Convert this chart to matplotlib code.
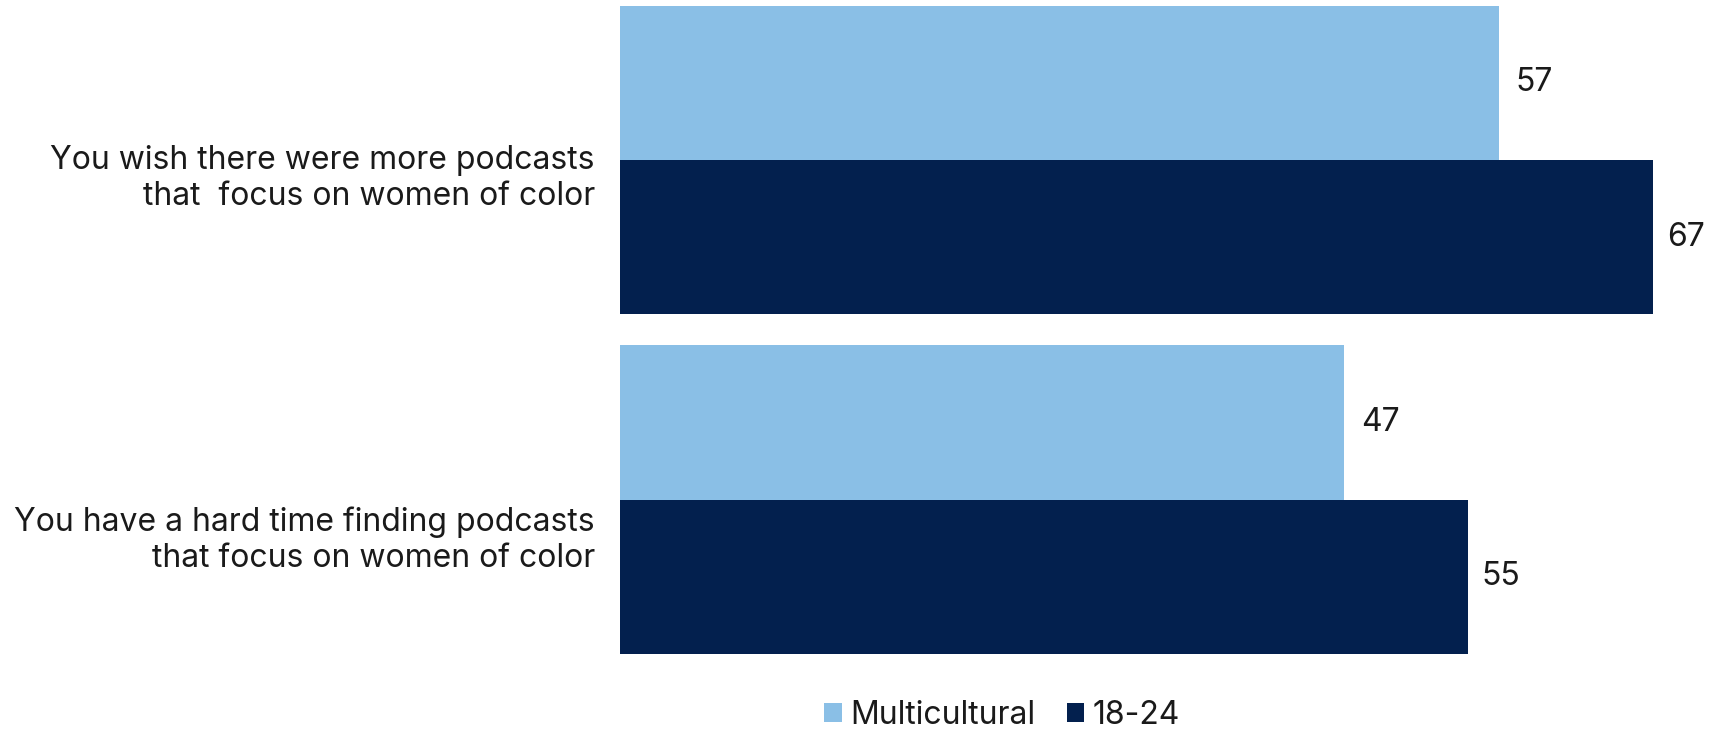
import matplotlib
matplotlib.use("Agg")
import matplotlib.pyplot as plt
import matplotlib.transforms as mtransforms
from matplotlib.patches import Patch
import numpy as np

plt.rcParams['font.family'] = ['Inter', 'DejaVu Sans']

categories = ["You wish there were more podcasts\nthat  focus on women of color",
              "You have a hard time finding podcasts\nthat focus on women of color"]
series_names = ["Multicultural", "18-24"]
multicultural = [57, 47]
age_18_24 = [67, 55]
colors = ["#8ABFE6", "#03204E"]
label_drop_px = [13, 35]

fig = plt.figure(figsize=(17.16, 7.30), dpi=100)
ax = fig.add_axes([620/1716, 76/730, (1699-620)/1716, (654-5.5)/730])

h = 0.455
y = np.arange(len(categories))
ax.barh(y - h/2, multicultural, height=h, color=colors[0])
ax.barh(y + h/2, age_18_24, height=h, color=colors[1])

for yi, v in zip(y - h/2, multicultural):
    ax.annotate(str(v), (v, yi), xytext=(12, 0), textcoords='offset points',
                va='center', ha='left', fontsize=23, color='#1a1a1a')
for yi, v in zip(y + h/2, age_18_24):
    ax.annotate(str(v), (v, yi), xytext=(10, 0), textcoords='offset points',
                va='center', ha='left', fontsize=23, color='#1a1a1a')

ax.set_xlim(0, 70)
ax.set_ylim(len(categories) - 1 + h, -h)
ax.set_yticks(y)
ax.set_yticklabels(categories, fontsize=23, color='#1a1a1a', ha='right',
                   multialignment='right', linespacing=1.2)
ax.tick_params(axis='y', length=0, pad=18)
ax.set_xticks([])
for s in ax.spines.values():
    s.set_visible(False)

for lbl, d in zip(ax.get_yticklabels(), label_drop_px):
    offset = mtransforms.ScaledTranslation(0, -d/100, fig.dpi_scale_trans)
    lbl.set_transform(lbl.get_transform() + offset)

handles = [Patch(facecolor=colors[0]), Patch(facecolor=colors[1])]
fig.legend(handles, series_names, loc='center', bbox_to_anchor=(1002/1716, 15/730),
           ncol=2, frameon=False, fontsize=23, handlelength=0.55, handleheight=0.55,
           handletextpad=0.25, columnspacing=1.0, labelcolor='#1a1a1a',
           borderpad=0.0)

fig.savefig("out.png", dpi=100)
